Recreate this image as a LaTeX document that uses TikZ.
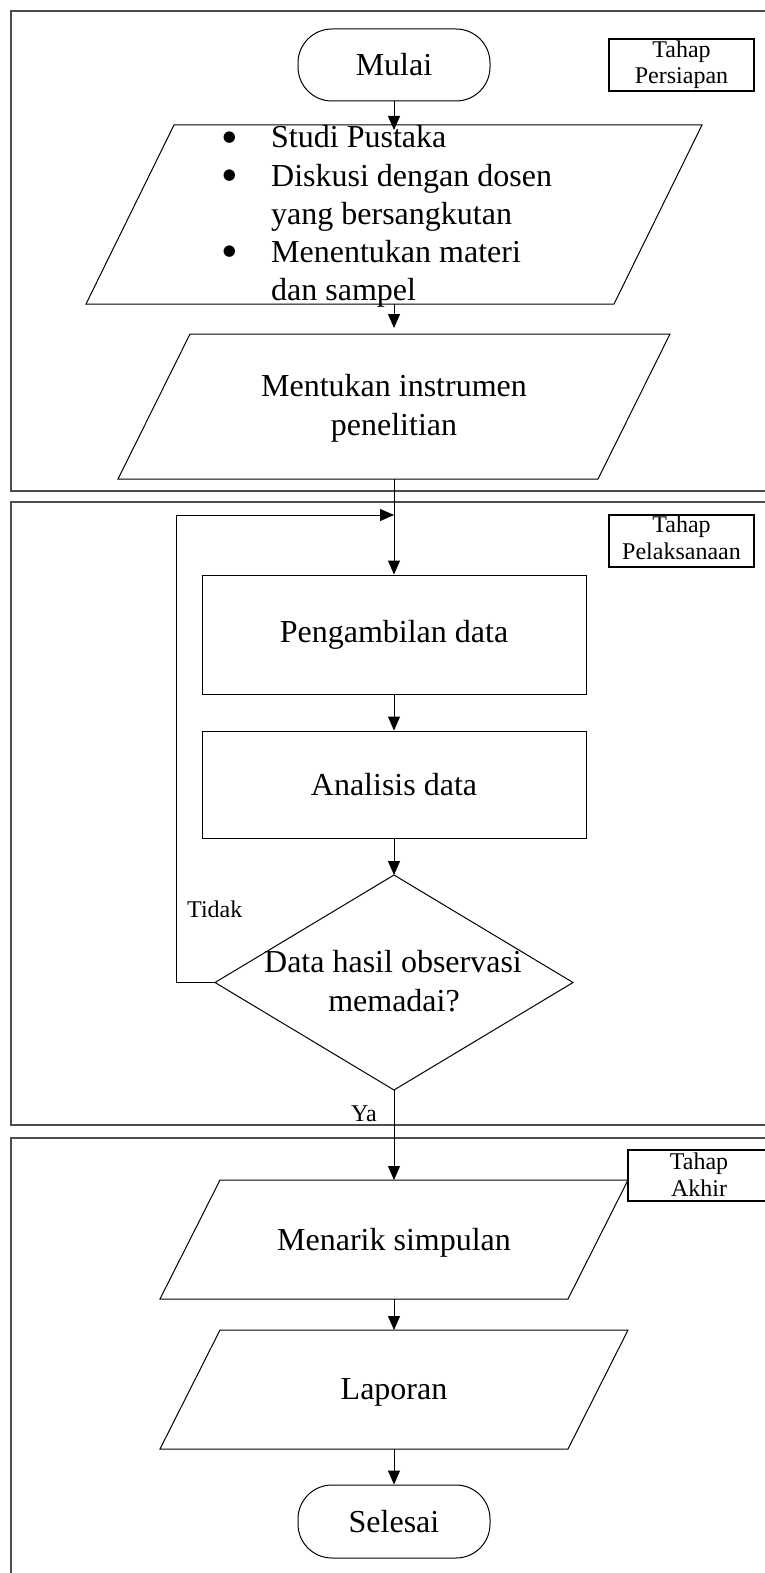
\documentclass[tikz,border=0pt]{standalone}
\usepackage{fontspec}
\setmainfont{Liberation Serif}
\newfontfamily\symfont{DejaVu Sans}
\usetikzlibrary{arrows.meta,calc}
\newcommand\fsBig{\fontsize{32}{38}\selectfont}
\newcommand\fsSmall{\fontsize{24}{26}\selectfont}

\begin{document}
\begin{tikzpicture}[x=1pt,y=-1pt,
  frame/.style={draw=black!70, line width=1.6pt},
  outline/.style={draw=black, line width=1pt},
  term/.style={outline, rounded corners=34pt, minimum width=192pt, minimum height=72pt, inner sep=0, font=\fsBig},
  procbox/.style={outline, minimum width=384pt, inner sep=0, font=\fsBig},
  tag/.style={draw=black, line width=2pt, fill=white, minimum width=145pt, minimum height=52pt, inner sep=0},
  big/.style={font=\fsBig, inner sep=0},
  small/.style={font=\fsSmall, inner sep=0},
  dot/.style={font=\symfont\fontsize{15}{15}\selectfont, inner sep=0},
  flow/.style={draw=black, line width=1pt, -{Triangle[length=14pt,width=12pt]}},
]
\useasboundingbox (0,0) rectangle (764,1573);
\fill[white] (0,0) rectangle (764,1573);

% stage frames (open on the right)
\draw[frame] (770,11) -- (11,11) -- (11,491) -- (770,491);
\draw[frame] (770,502) -- (11,502) -- (11,1125) -- (770,1125);
\draw[frame] (770,1138) -- (11,1138) -- (11,1580);

% start
\node[term] (start) at (394,65) {Mulai};

% preparation list
\coordinate (p1) at (394,214.5);
\coordinate (p1n) at (394,125);
\coordinate (p1s) at (394,304);
\draw[outline] ($(p1)+(-220,-89.5)$) -- ($(p1)+(308,-89.5)$) -- ($(p1)+(220,89.5)$) -- ($(p1)+(-308,89.5)$) -- cycle;
\node[dot] (bu1) at (229.5,138) {●};
\node[dot] (bu2) at (229.5,176) {●};
\node[dot] (bu3) at (229.5,252) {●};
\node[big, anchor=base west] (li1) at (271,148) {Studi Pustaka};
\node[big, anchor=base west] (li2) at (271,186) {Diskusi dengan dosen};
\node[big, anchor=base west] (li3) at (271,224) {yang bersangkutan};
\node[big, anchor=base west] (li4) at (271,262) {Menentukan materi};
\node[big, anchor=base west] (li5) at (271,300) {dan sampel};

% instrument
\coordinate (p2) at (394,406.5);
\coordinate (p2n) at (394,334);
\coordinate (p2s) at (394,479);
\draw[outline] ($(p2)+(-204,-72.5)$) -- ($(p2)+(276,-72.5)$) -- ($(p2)+(204,72.5)$) -- ($(p2)+(-276,72.5)$) -- cycle;
\node[big, anchor=base] (ins1) at (394,396.7) {Mentukan instrumen};
\node[big, anchor=base] (ins2) at (394,435) {penelitian};

% execution
\node[procbox, minimum height=119pt] (take) at (394,634.5) {Pengambilan data};
\node[procbox, minimum height=107pt] (anal) at (394,784.5) {Analisis data};

% decision
\coordinate (dn) at (394,875);
\coordinate (dw) at (215,982.5);
\coordinate (de) at (573,982.5);
\coordinate (ds) at (394,1090);
\draw[outline] (dn) -- (de) -- (ds) -- (dw) -- cycle;
\node[big, anchor=base] (q1) at (393,972.7) {Data hasil observasi};
\node[big, anchor=base] (q2) at (394,1011) {memadai?};
\coordinate (join) at (394,515);

% conclusion
\coordinate (p3) at (394,1239.5);
\coordinate (p3n) at (394,1180);
\coordinate (p3s) at (394,1299);
\draw[outline] ($(p3)+(-174,-59.5)$) -- ($(p3)+(234,-59.5)$) -- ($(p3)+(174,59.5)$) -- ($(p3)+(-234,59.5)$) -- cycle;
\node[big, anchor=base] (concl) at (394,1250) {Menarik simpulan};

% report
\coordinate (p4) at (394,1389.5);
\coordinate (p4n) at (394,1330);
\coordinate (p4s) at (394,1449);
\draw[outline] ($(p4)+(-174,-59.5)$) -- ($(p4)+(234,-59.5)$) -- ($(p4)+(174,59.5)$) -- ($(p4)+(-234,59.5)$) -- cycle;
\node[big, anchor=base] (report) at (394,1399) {Laporan};

% end
\node[term, minimum height=73pt] (finish) at (394,1521.5) {Selesai};

% stage tags
\node[tag] (tag1) at (681.5,65) {};
\node[small, anchor=base] (tag1a) at (681.5,57.3) {Tahap};
\node[small, anchor=base] (tag1b) at (681.5,83.3) {Persiapan};
\node[tag] (tag2) at (681.5,540.5) {};
\node[small, anchor=base] (tag2a) at (681.5,532.7) {Tahap};
\node[small, anchor=base] (tag2b) at (681.5,559) {Pelaksanaan};
\node[tag, minimum height=51pt] (tag3) at (700,1175.3) {};
\node[small, anchor=base] (tag3a) at (699,1169.3) {Tahap};
\node[small, anchor=base] (tag3b) at (699,1196) {Akhir};

% branch labels
\node[small, anchor=base west] (no) at (187,917.3) {Tidak};
\node[small, anchor=base west] (yes) at (351,1121.7) {Ya};

% connectors
\draw[flow, shorten >=-5pt] (start.south) -- (p1n);
\draw[flow, shorten >=6pt] (p1s) -- (p2n);
\draw[flow] (p2s) -- (take.north);
\draw[flow] (dw) -- ++(-39,0) |- (join);
\draw[flow] (take.south) -- (anal.north);
\draw[flow] (anal.south) -- (dn);
\draw[flow] (ds) -- (p3n);
\draw[flow] (p3s) -- (p4n);
\draw[flow] (p4s) -- (finish.north);
\end{tikzpicture}
\end{document}
